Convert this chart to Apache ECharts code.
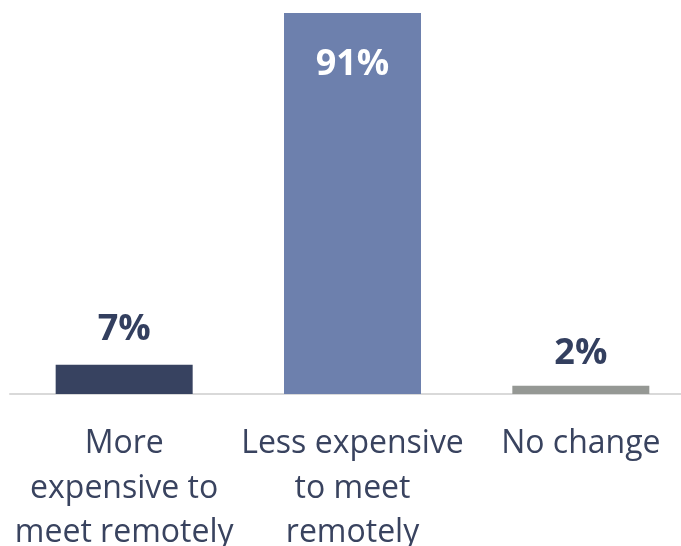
<!DOCTYPE html>
<html>
<head>
    <meta charset="utf-8">
    <title>Cost of meeting remotely</title>
    <script src="https://cdn.jsdelivr.net/npm/echarts@6/dist/echarts.min.js"></script>
    <style>
        html, body { margin: 0; padding: 0; background: #fff; }
        #chart1 { width: 681px; height: 546px; }
    </style>
</head>
<body>
    <div id="chart1"></div>
    <script type="text/javascript">
        // data
        var categories = ['More\nexpensive to\nmeet remotely', 'Less expensive\nto meet\nremotely', 'No change'];
        var values = [7, 91, 2];
        var barColors = ['#374260', '#6d80ad', '#959894'];

        var myChart1 = echarts.init(document.getElementById('chart1'));

        var seriesData = values.map(function (v, i) {
            var big = v > 50;
            return {
                value: v,
                itemStyle: { color: barColors[i] },
                label: {
                    position: big ? 'insideTop' : 'top',
                    distance: big ? 34 : (v < 5 ? 14 : 17),
                    color: big ? '#ffffff' : '#333f5f'
                }
            };
        });

        myChart1.setOption({
            animation: false,
            grid: {
                left: 10, top: 13, right: -14, height: 381,
                outerBoundsMode: 'none', containLabel: false
            },
            xAxis: {
                type: 'category',
                data: categories,
                axisLine: { lineStyle: { color: '#d9d9d9', width: 2 } },
                axisTick: { show: false },
                axisLabel: {
                    interval: 0,
                    margin: 28,
                    fontFamily: 'Open Sans',
                    fontSize: 32,
                    lineHeight: 44.5,
                    color: '#39435f'
                }
            },
            yAxis: {
                type: 'value',
                min: 0,
                max: 91,
                show: false,
                splitLine: { show: false }
            },
            series: [{
                type: 'bar',
                barWidth: 137,
                data: seriesData,
                label: {
                    show: true,
                    formatter: '{c}%',
                    fontFamily: 'Open Sans',
                    fontWeight: 'bold',
                    fontSize: 36
                }
            }]
        });
    </script>
</body>
</html>
